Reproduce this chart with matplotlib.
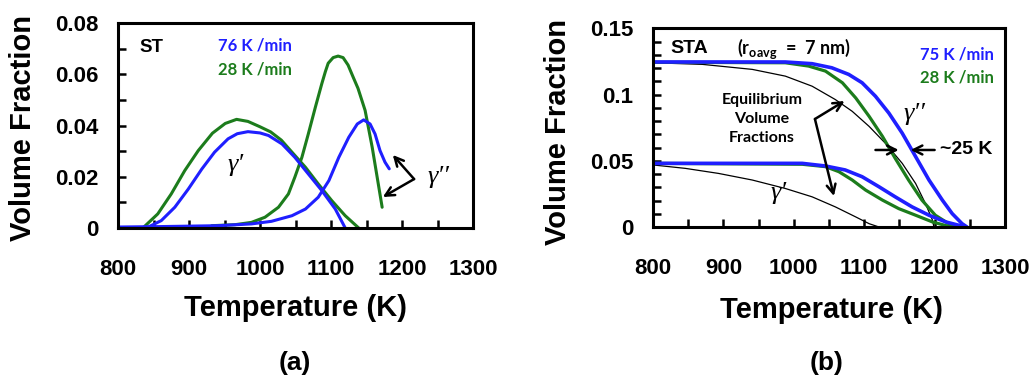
import matplotlib.pyplot as plt
import numpy as np

plt.rcParams['font.family'] = ['Liberation Sans', 'DejaVu Sans']
plt.rcParams['mathtext.default'] = 'regular'
plt.rcParams['lines.solid_joinstyle'] = 'round'
plt.rcParams['lines.solid_capstyle'] = 'round'

BLUE = '#1f1fff'
GREEN = '#1c7c1c'

# ---- panel (a): ST ----
a_gp_green_T = [835, 856, 875, 894, 913, 933, 951, 967, 983, 1000, 1015, 1030, 1045, 1064, 1082, 1101, 1120, 1139]
a_gp_green_V = [0, 0.0055, 0.0133, 0.0224, 0.0302, 0.037, 0.0408, 0.0424, 0.0416, 0.0395, 0.0375, 0.0343,
                0.0296, 0.0237, 0.0172, 0.0107, 0.0048, 0]
a_gp_blue_T = [800, 842, 861, 880, 899, 918, 936, 955, 968, 983, 1000, 1012, 1031, 1049, 1068, 1087, 1106, 1120]
a_gp_blue_V = [0.0003, 0.0003, 0.0029, 0.0081, 0.0152, 0.023, 0.0296, 0.0348, 0.0368, 0.0376, 0.0371, 0.0361,
               0.0328, 0.0276, 0.0211, 0.0146, 0.0074, 0]
a_gpp_green_T = [932, 965, 988, 1007, 1026, 1040, 1049, 1059, 1068, 1078, 1087, 1092, 1096, 1103, 1110,
                 1117, 1124, 1131, 1138, 1148, 1158, 1165, 1172]
a_gpp_green_V = [0.0009, 0.0013, 0.0022, 0.0042, 0.0081, 0.0133, 0.0198, 0.0276, 0.0367, 0.0472, 0.0563,
                 0.061, 0.0643, 0.0665, 0.0671, 0.0665, 0.0636, 0.059, 0.0545, 0.0459, 0.0315, 0.0198, 0.0081]
a_gpp_blue_T = [800, 941, 988, 1016, 1045, 1064, 1082, 1097, 1111, 1125, 1137, 1146, 1155, 1162, 1169, 1176, 1182]
a_gpp_blue_V = [0.0003, 0.0009, 0.0016, 0.0026, 0.0048, 0.0074, 0.012, 0.0185, 0.0276, 0.0354, 0.0406,
                0.0422, 0.0406, 0.0367, 0.0302, 0.0257, 0.0231]

# ---- panel (b): STA ----
b_gpp_blue_T = [800, 988, 1026, 1054, 1078, 1097, 1116, 1135, 1154, 1173, 1192, 1211, 1225, 1239, 1246]
b_gpp_blue_V = [0.1247, 0.1247, 0.1234, 0.1203, 0.1153, 0.109, 0.0988, 0.0861, 0.0709, 0.0532, 0.0355,
                0.0203, 0.0101, 0.0025, 0]
b_gpp_green_T = [800, 988, 1021, 1045, 1069, 1088, 1107, 1126, 1144, 1163, 1182, 1201, 1220, 1239]
b_gpp_green_V = [0.1245, 0.1241, 0.1216, 0.1178, 0.109, 0.0975, 0.0836, 0.0684, 0.0519, 0.0355, 0.0203,
                 0.0089, 0.0025, 0]
b_gpp_eq_T = [800, 870, 941, 988, 1026, 1059, 1083, 1107, 1130, 1154, 1173, 1187, 1197, 1199]
b_gpp_eq_V = [0.1241, 0.1229, 0.1191, 0.114, 0.1064, 0.0963, 0.0874, 0.076, 0.0633, 0.0481, 0.0329,
              0.0177, 0.0051, 0]
b_gp_blue_T = [800, 1012, 1045, 1073, 1097, 1121, 1144, 1168, 1192, 1216, 1244]
b_gp_blue_V = [0.0481, 0.0481, 0.0461, 0.0431, 0.038, 0.0304, 0.0228, 0.0152, 0.0089, 0.0038, 0]
b_gp_green_T = [800, 1012, 1045, 1064, 1083, 1102, 1126, 1149, 1173, 1197, 1220, 1235]
b_gp_green_V = [0.0481, 0.0474, 0.0456, 0.0418, 0.0355, 0.0279, 0.0203, 0.0139, 0.0089, 0.0038, 0.0005, 0]
b_gp_eq_T = [800, 846, 893, 941, 988, 1026, 1059, 1088, 1107, 1121]
b_gp_eq_V = [0.0469, 0.0443, 0.0405, 0.0355, 0.0291, 0.0228, 0.0152, 0.0076, 0.0025, 0]

xticks = [800, 900, 1000, 1100, 1200, 1300]
a_yticks = [0, 0.02, 0.04, 0.06, 0.08]
a_ylabels = ['0', '0.02', '0.04', '0.06', '0.08']
b_yticks = [0, 0.05, 0.1, 0.15]
b_ylabels = ['0', '0.05', '0.1', '0.15']

fig = plt.figure(figsize=(10.36, 3.83), dpi=100)
ax1 = fig.add_axes([0.1139, 0.4047, 0.3427, 0.5352])
ax2 = fig.add_axes([0.6303, 0.4073, 0.3398, 0.5183])

rate_font = dict(family=['Lato', 'DejaVu Sans'], fontweight='bold', fontsize=12)
greek_font = dict(family=['Liberation Serif', 'DejaVu Serif'], style='italic', fontsize=19)
arrow = dict(arrowstyle='->', lw=1.8, color='black', mutation_scale=16, shrinkA=0, shrinkB=0)


def style_axes(ax, yticks, ylabels, yminor, ymax):
    ax.set_xlim(800, 1300)
    ax.set_ylim(0, ymax)
    ax.set_xticks(xticks)
    ax.set_xticklabels([str(t) for t in xticks])
    ax.set_xticks(np.arange(850, 1300, 50), minor=True)
    ax.set_yticks(yticks)
    ax.set_yticklabels(ylabels)
    ax.set_yticks(yminor, minor=True)
    ax.tick_params(which='both', direction='in', top=False, right=False, width=1.8, length=6)
    ax.tick_params(axis='x', which='major', pad=22, labelsize=16)
    ax.tick_params(axis='y', which='major', pad=14, labelsize=16)
    for lab in ax.get_xticklabels() + ax.get_yticklabels():
        lab.set_fontweight('bold')
    for s in ax.spines.values():
        s.set_linewidth(2.2)
    ax.set_xlabel('Temperature (K)', fontsize=21, fontweight='bold')
    ax.set_ylabel('Volume Fraction', fontsize=21, fontweight='bold')


# panel (a)
ax1.plot(a_gp_green_T, a_gp_green_V, color=GREEN, lw=2.2)
ax1.plot(a_gpp_green_T, a_gpp_green_V, color=GREEN, lw=2.2)
ax1.plot(a_gp_blue_T, a_gp_blue_V, color=BLUE, lw=2.2)
ax1.plot(a_gpp_blue_T, a_gpp_blue_V, color=BLUE, lw=2.2)
style_axes(ax1, a_yticks, a_ylabels, np.arange(0.01, 0.08, 0.01), 0.08)
ax1.xaxis.set_label_coords(0.499, -0.39)
ax1.xaxis.label.set_va('center')
ax1.yaxis.set_label_coords(-0.268, 0.49)
ax1.yaxis.label.set_va('center')

ax1.text(830, 0.0706, 'ST', fontsize=13.5, fontweight='bold', va='center')
ax1.text(941, 0.0714, '76 K /min', color=BLUE, va='center', **rate_font)
ax1.text(941, 0.0617, '28 K /min', color=GREEN, va='center', **rate_font)
ax1.text(966, 0.0246, 'γ′', ha='center', va='center', **greek_font)
ax1.text(1251, 0.0199, 'γ′′', ha='center', va='center', **greek_font)
ax1.annotate('', xy=(1187, 0.0285), xytext=(1217, 0.0191), arrowprops=arrow)
ax1.annotate('', xy=(1173, 0.0121), xytext=(1217, 0.0191), arrowprops=arrow)

# panel (b)
ax2.plot(b_gpp_eq_T, b_gpp_eq_V, color='black', lw=0.9)
ax2.plot(b_gp_eq_T, b_gp_eq_V, color='black', lw=0.9)
ax2.plot(b_gpp_green_T, b_gpp_green_V, color=GREEN, lw=2.3)
ax2.plot(b_gp_green_T, b_gp_green_V, color=GREEN, lw=2.3)
ax2.plot(b_gpp_blue_T, b_gpp_blue_V, color=BLUE, lw=2.6)
ax2.plot(b_gp_blue_T, b_gp_blue_V, color=BLUE, lw=2.6)
style_axes(ax2, b_yticks, b_ylabels, np.arange(0.01, 0.15, 0.01), 0.15)
ax2.xaxis.set_label_coords(0.507, -0.42)
ax2.xaxis.label.set_va('center')
ax2.yaxis.set_label_coords(-0.269, 0.48)
ax2.yaxis.label.set_va('center')

ax2.text(824, 0.135, 'STA', fontsize=14, fontweight='bold', va='center')
ax2.text(920, 0.135, '(r$_{oavg}$  =  7 nm)', va='center', family=['Lato', 'DejaVu Sans'],
         fontweight='bold', fontsize=13)
ax2.text(1284, 0.1307, '75 K /min', color=BLUE, ha='right', va='center', **rate_font)
ax2.text(1284, 0.1126, '28 K /min', color=GREEN, ha='right', va='center', **rate_font)
ax2.text(955, 0.0816, 'Equilibrium\nVolume\nFractions', ha='center', va='center',
         linespacing=1.45, family=['Lato', 'DejaVu Sans'], fontweight='bold', fontsize=11.5)
ax2.annotate('', xy=(1072, 0.0952), xytext=(1030, 0.0816), arrowprops=arrow)
ax2.annotate('', xy=(1057, 0.0234), xytext=(1030, 0.0816), arrowprops=arrow)
ax2.text(1171, 0.0854, 'γ′′', ha='center', va='center', **greek_font)
ax2.text(979, 0.0257, 'γ′', ha='center', va='center', **greek_font)
ax2.annotate('', xy=(1149, 0.0582), xytext=(1116, 0.0582), arrowprops=arrow)
ax2.annotate('', xy=(1166, 0.0582), xytext=(1200, 0.0582), arrowprops=arrow)
ax2.text(1207, 0.0582, '~25 K', fontsize=14, fontweight='bold', va='center')

fig.text(295 / 1036, 1 - 363 / 383, '(a)', fontsize=19, fontweight='bold', ha='center', va='center')
fig.text(827 / 1036, 1 - 363 / 383, '(b)', fontsize=19, fontweight='bold', ha='center', va='center')

fig.savefig('out.png', dpi=100)
